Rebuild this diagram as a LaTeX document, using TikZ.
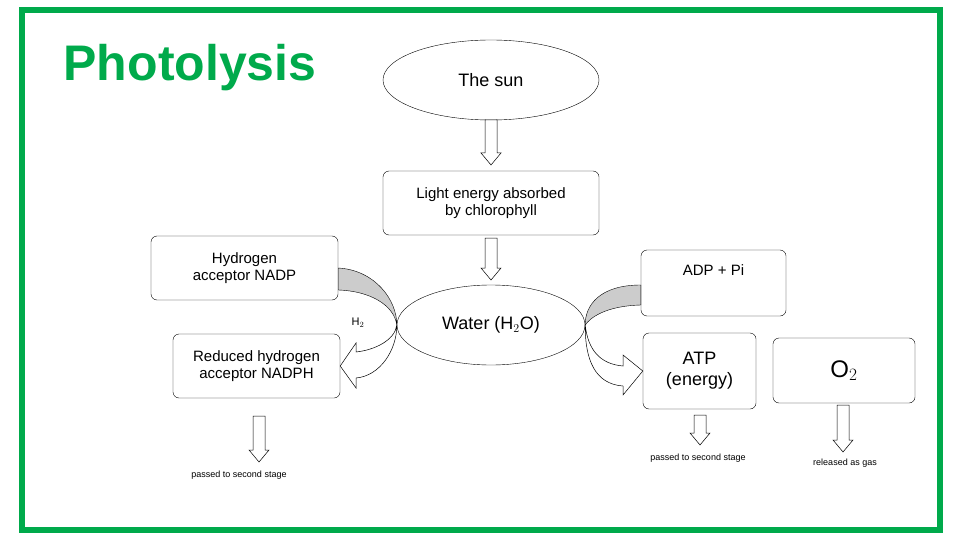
\documentclass[tikz,border=0pt]{standalone}
\usepackage{fontspec}
\setmainfont{Liberation Sans}
\usetikzlibrary{positioning,shapes.geometric}
\definecolor{framegreen}{RGB}{0,170,75}
\begin{document}
\begin{tikzpicture}[x=1pt,y=-1pt,
box/.style={draw,rounded corners=6pt,align=center,font=\fontsize{15}{17}\selectfont},
hollow/.style={draw,fill=white,line width=0.5pt},
caption/.style={font=\fontsize{9}{10}\selectfont}]
\useasboundingbox (0,0) rectangle (960,540);

% rahmen
\draw[framegreen,line width=6pt] (22,10) rectangle (940,530);
\node[text=framegreen,font=\fontsize{50}{55}\selectfont\bfseries] (title) at (190,68) {Photolysis};

% grosse bloecke
\node[draw,ellipse,minimum width=216pt,minimum height=80pt,font=\fontsize{18}{20}\selectfont] (sun) at (491,80) {The sun};
\node[box,minimum width=216pt,minimum height=64pt] (light) at (491,203) {Light energy absorbed\\by chlorophyll};
\node[draw,ellipse,minimum width=188pt,minimum height=80pt,font=\fontsize{18}{20}\selectfont] (water) at (491,325) {Water (H$_2$O)};
\node[box,minimum width=187pt,minimum height=64pt] (nadp) at (244.5,268) {Hydrogen\\acceptor NADP};
\node[box,minimum width=167pt,minimum height=64pt] (nadph) at (256.5,366) {Reduced hydrogen\\acceptor NADPH};
\node[box,minimum width=145pt,minimum height=66pt,text depth=26pt] (adp) at (713.5,283) {ADP + Pi};
\node[box,minimum width=113pt,minimum height=76pt,font=\fontsize{18}{21}\selectfont] (atp) at (699.5,371) {ATP\\(energy)};
\node[box,minimum width=142pt,minimum height=65pt,font=\fontsize{24}{26}\selectfont] (o2) at (844,370.5) {O$_2$};
\node[font=\fontsize{11}{12}\selectfont] (h2) at (358,323) {H$_2$};

% bildunterschriften
\node[caption] (capnadph) at (239,475) {passed to second stage};
\node[caption] (capatp) at (698,458) {passed to second stage};
\node[caption] (capo2) at (845,463) {released as gas};

% hohle pfeile
\foreach \x/\a/\b in {491/120/165, 491/238/280, 259/416/462, 700/415/445, 843/405/452}
  \draw[hollow] (\x-6,\a) -- (\x+6,\a) -- (\x+6,\b-12) -- (\x+10,\b-12) -- (\x,\b) -- (\x-10,\b-12) -- (\x-6,\b-12) -- cycle;

% gebogene pfeile links
\draw[fill=gray!40] (nadp.east |- 0,268) .. controls (375,270) and (397,300) .. (water.west)
  .. controls (394,305) and (370,291) .. (nadp.east |- 0,290) -- cycle;
\draw[hollow] (water.west) .. controls (395,340) and (375,350) .. (356,352) -- (356,343) -- (nadph.east) -- (356,388)
  -- (356,378) .. controls (380,376) and (397,350) .. (water.west);

% gebogene pfeile rechts
\draw[fill=gray!40] (adp.west |- 0,285) .. controls (600,285) and (585,305) .. (water.east)
  .. controls (590,318) and (605,306) .. (adp.west |- 0,305) -- cycle;
\draw[hollow] (water.east) .. controls (588,350) and (600,364) .. (623,366) -- (623,355) -- (atp.west) -- (623,395)
  -- (623,386) .. controls (595,384) and (585,360) .. (water.east);
\end{tikzpicture}
\end{document}
